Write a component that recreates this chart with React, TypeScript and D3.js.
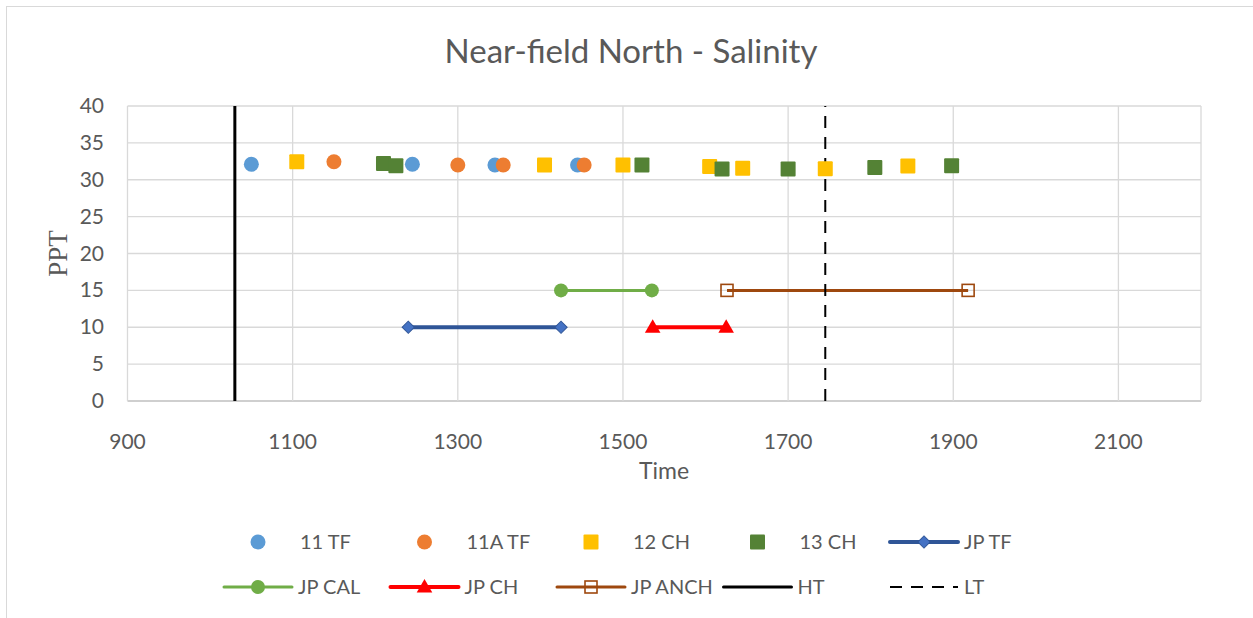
import * as d3 from "d3";

// time (hhmm) and salinity (ppt)
const tf11Time = [1050, 1245, 1345, 1445];
const tf11Ppt = [32.1, 32.1, 32.0, 32.0];
const tf11aTime = [1150, 1300, 1355, 1453];
const tf11aPpt = [32.45, 32.0, 32.0, 32.0];
const ch12Time = [1105, 1405, 1500, 1605, 1645, 1745, 1845];
const ch12Ppt = [32.45, 32.0, 32.0, 31.8, 31.55, 31.5, 31.85];
const ch13Time = [1210, 1225, 1523, 1620, 1700, 1805, 1898];
const ch13Ppt = [32.2, 31.9, 32.0, 31.45, 31.45, 31.65, 31.9];

const jpTfTime = [1240, 1425];
const jpTfPpt = [10, 10];
const jpCalTime = [1425, 1535];
const jpCalPpt = [15, 15];
const jpChTime = [1536, 1625];
const jpChPpt = [10, 10];
const jpAnchTime = [1626, 1918];
const jpAnchPpt = [15, 15];

const htTime = 1030;
const ltTime = 1745;

const xTicks = [900, 1100, 1300, 1500, 1700, 1900, 2100];
const yTicks = [0, 5, 10, 15, 20, 25, 30, 35, 40];

const W = 1253;
const H = 618;
const FONT = "Lato, 'Open Sans', sans-serif";
const GREY = "#595959";

const x = d3.scaleLinear().domain([900, 2200]).range([127.5, 1201]);
const y = d3.scaleLinear().domain([0, 40]).range([401, 106]);

const pts = (t: number[], v: number[]) => t.map((d, i) => [d, v[i]] as [number, number]);

const line = d3
  .line<[number, number]>()
  .x((d) => x(d[0]))
  .y((d) => y(d[1]));

const diamond = d3.symbol().type(d3.symbolSquare).size(75)() as string;
const triangle = d3.symbol().type(d3.symbolTriangle).size(105)() as string;

function Marker({ kind, color }: { kind: string; color: string }) {
  if (kind === "circle") return <circle r={7.5} fill={color} />;
  if (kind === "bigcircle") return <circle r={7} fill={color} />;
  if (kind === "square") return <rect x={-7.5} y={-7.5} width={15} height={15} rx={1} fill={color} />;
  if (kind === "diamond")
    return <path d={diamond} transform="rotate(45)" fill="#4472c4" stroke="#2f5597" strokeWidth={1} />;
  if (kind === "triangle") return <path d={triangle} transform="translate(0,1)" fill={color} />;
  if (kind === "opensquare")
    return <rect x={-6} y={-6} width={12} height={12} fill="none" stroke={color} strokeWidth={1.6} />;
  return null;
}

const scatterSeries = [
  { name: "11 TF", t: tf11Time, v: tf11Ppt, color: "#5b9bd5", kind: "circle" },
  { name: "11A TF", t: tf11aTime, v: tf11aPpt, color: "#ed7d31", kind: "circle" },
  { name: "12 CH", t: ch12Time, v: ch12Ppt, color: "#ffc000", kind: "square" },
  { name: "13 CH", t: ch13Time, v: ch13Ppt, color: "#548235", kind: "square" },
];

const lineSeries = [
  { name: "JP TF", t: jpTfTime, v: jpTfPpt, color: "#2f5597", width: 4, kind: "diamond" },
  { name: "JP CAL", t: jpCalTime, v: jpCalPpt, color: "#70ad47", width: 3, kind: "bigcircle" },
  { name: "JP CH", t: jpChTime, v: jpChPpt, color: "#ff0000", width: 4, kind: "triangle" },
  { name: "JP ANCH", t: jpAnchTime, v: jpAnchPpt, color: "#9e480e", width: 3, kind: "opensquare" },
];

const legendItems = [
  { name: "11 TF", color: "#5b9bd5", kind: "circle", line: 0, dash: "" },
  { name: "11A TF", color: "#ed7d31", kind: "circle", line: 0, dash: "" },
  { name: "12 CH", color: "#ffc000", kind: "square", line: 0, dash: "" },
  { name: "13 CH", color: "#548235", kind: "square", line: 0, dash: "" },
  { name: "JP TF", color: "#2f5597", kind: "diamond", line: 4, dash: "" },
  { name: "JP CAL", color: "#70ad47", kind: "bigcircle", line: 3, dash: "" },
  { name: "JP CH", color: "#ff0000", kind: "triangle", line: 4, dash: "" },
  { name: "JP ANCH", color: "#9e480e", kind: "opensquare", line: 3, dash: "" },
  { name: "HT", color: "#000000", kind: "", line: 3, dash: "" },
  { name: "LT", color: "#000000", kind: "", line: 2, dash: "12,9" },
];

export default function App() {
  return (
    <svg
      width={W}
      height={H}
      style={{ position: "absolute", left: 0, top: 0, background: "#fff" }}
      fontFamily={FONT}
    >
      <rect x={0} y={0} width={W} height={H} fill="#fff" />
      <rect x={6.5} y={6.5} width={W + 20} height={H + 20} fill="none" stroke="#d9d9d9" strokeWidth={1} />

      <text x={631} y={63} textAnchor="middle" fontSize={33} fill={GREY}>
        Near-field North - Salinity
      </text>

      {/* grid */}
      {yTicks.map((t) => (
        <line
          key={"gy" + t}
          x1={x(900)}
          x2={x(2200)}
          y1={y(t)}
          y2={y(t)}
          stroke={t === 0 ? "#bfbfbf" : "#d9d9d9"}
          strokeWidth={1.3}
        />
      ))}
      {xTicks.map((t) => (
        <line key={"gx" + t} x1={x(t)} x2={x(t)} y1={y(0)} y2={y(40)} stroke="#d9d9d9" strokeWidth={1.3} />
      ))}
      <line x1={x(2200)} x2={x(2200)} y1={y(0)} y2={y(40)} stroke="#d9d9d9" strokeWidth={1.3} />

      {yTicks.map((t) => (
        <text key={"ly" + t} x={104} y={y(t) + 7} textAnchor="end" fontSize={21} fill={GREY}>
          {t}
        </text>
      ))}
      {xTicks.map((t) => (
        <text key={"lx" + t} x={x(t)} y={449} textAnchor="middle" fontSize={21} fill={GREY}>
          {t}
        </text>
      ))}

      <text x={664} y={479} textAnchor="middle" fontSize={23} fill={GREY}>
        Time
      </text>
      <text
        transform={`translate(67,${y(20)}) rotate(-90)`}
        textAnchor="middle"
        fontSize={27}
        fill={GREY}
        fontFamily="'Liberation Serif', 'DejaVu Serif', serif"
      >
        PPT
      </text>

      {/* JP series */}
      {lineSeries.map((s) => (
        <g key={s.name}>
          <path d={line(pts(s.t, s.v)) || ""} fill="none" stroke={s.color} strokeWidth={s.width} />
        </g>
      ))}

      {/* tide lines */}
      <line x1={x(htTime)} x2={x(htTime)} y1={y(0)} y2={y(40)} stroke="#000" strokeWidth={3} />
      <line
        x1={x(ltTime)}
        x2={x(ltTime)}
        y1={y(0)}
        y2={y(40)}
        stroke="#000"
        strokeWidth={2}
        strokeDasharray="12,9"
      />

      {lineSeries.map((s) => (
        <g key={s.name + "m"}>
          {pts(s.t, s.v).map((d, i) => (
            <g key={i} transform={`translate(${x(d[0])},${y(d[1])})`}>
              <Marker kind={s.kind} color={s.color} />
            </g>
          ))}
        </g>
      ))}

      {scatterSeries.map((s) => (
        <g key={s.name}>
          {pts(s.t, s.v).map((d, i) => (
            <g key={i} transform={`translate(${x(d[0])},${y(d[1])})`}>
              <Marker kind={s.kind} color={s.color} />
            </g>
          ))}
        </g>
      ))}

      {/* legend */}
      {legendItems.map((it, i) => {
        const cx = 258 + (i % 5) * 166.5;
        const cy = i < 5 ? 542 : 587;
        return (
          <g key={it.name} transform={`translate(${cx},${cy})`}>
            {it.line > 0 && (
              <line
                x1={-34}
                x2={34}
                y1={0}
                y2={0}
                stroke={it.color}
                strokeWidth={it.line}
                strokeDasharray={it.dash || undefined}
                strokeLinecap={it.dash ? "butt" : "round"}
              />
            )}
            {it.kind && <Marker kind={it.kind} color={it.color} />}
            <text x={it.line > 0 ? 40 : 42} y={7} fontSize={20} fill={GREY}>
              {it.name}
            </text>
          </g>
        );
      })}
    </svg>
  );
}
